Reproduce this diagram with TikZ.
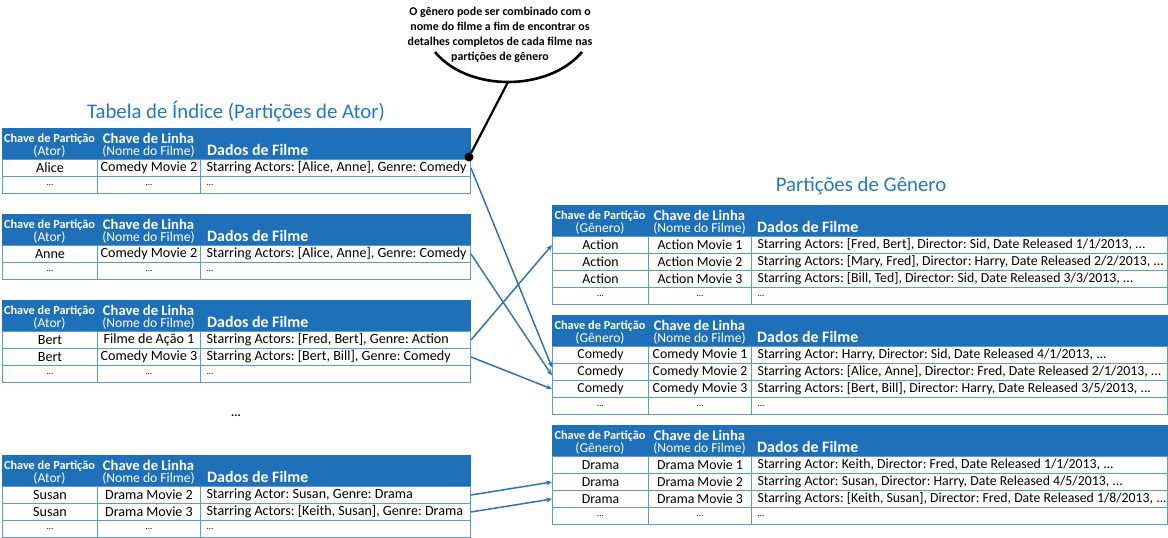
\documentclass[tikz,border=0pt]{standalone}
\usepackage{fontspec}
\setmainfont{Carlito}
\usetikzlibrary{arrows.meta,positioning,calc}
\definecolor{hdblue}{HTML}{1E70B8}
\definecolor{ttlblue}{HTML}{2179C6}
\definecolor{gridblue}{HTML}{5B9BD5}
\definecolor{arrblue}{HTML}{2E75B6}
\newcommand{\dotz}{{\fontsize{9}{9}\selectfont...}}
\frenchspacing

\begin{document}
\begin{tikzpicture}[x=1pt, y=-1pt,
  hd/.style={fill=hdblue, draw=hdblue, anchor=north west, inner sep=0pt, minimum height=31pt},
  pk/.style={text=white, inner sep=0pt, font=\bfseries\fontsize{12.3}{13}\selectfont},
  rk/.style={text=white, inner sep=0pt, font=\bfseries\fontsize{14.6}{15}\selectfont},
  sub/.style={text=white, inner sep=0pt, font=\fontsize{13.6}{14}\selectfont},
  dt/.style={text=white, inner sep=0pt, anchor=west, font=\bfseries\fontsize{15.9}{17}\selectfont},
  cell/.style={draw=gridblue, line width=1pt, fill=white, anchor=north west, inner sep=0pt, minimum height=17pt, font=\fontsize{14.1}{15}\selectfont},
  ca/.style={cell, minimum width=95pt},
  cb/.style={cell, minimum width=103pt},
  cc/.style={cell, minimum width=270pt},
  ga/.style={cell, minimum width=96pt, font=\fontsize{13.8}{15}\selectfont},
  gb/.style={cell, minimum width=103pt, font=\fontsize{13.8}{15}\selectfont},
  gc/.style={cell, minimum width=416pt, font=\fontsize{13.8}{15}\selectfont},
  ttl/.style={text=ttlblue, font=\fontsize{20.8}{22}\selectfont},
  arr/.style={-{Stealth[length=6pt, width=5pt]}, draw=arrblue, line width=1.5pt}]
\useasboundingbox (0,0) rectangle (1168,538);
% titles
\node[ttl] (lt) at (236,112) {Tabela de Índice (Partições de Ator)};
\node[ttl] (rt) at (861,186) {Partições de Gênero};
% actor tables
\foreach \t/\y in {alice/128, anne/214, bert/300, susan/455}{
  \node[hd, minimum width=468pt] (\t) at (2,\y) {};
  \node[pk] (\t-pk) at ($(\t.north west)+(47.5,11)$) {Chave de Partição};
  \node[sub] (\t-ps) at ($(\t.north west)+(47.5,23)$) {(Ator)};
  \node[rk] (\t-rk) at ($(\t.north west)+(146.5,10)$) {Chave de Linha};
  \node[sub] (\t-rs) at ($(\t.north west)+(146.5,23)$) {(Nome do Filme)};
  \node[dt] (\t-dt) at ($(\t.north west)+(205,22)$) {Dados de Filme};
}
\foreach \r/\y/\a/\b/\c in {
  alice1/159/Alice/Comedy Movie 2/{Starring Actors: [Alice, Anne], Genre: Comedy},
  alice2/176/\dotz/\dotz/\dotz,
  anne1/245/Anne/Comedy Movie 2/{Starring Actors: [Alice, Anne], Genre: Comedy},
  anne2/262/\dotz/\dotz/\dotz,
  bert1/331/Bert/Filme de Ação 1/{Starring Actors: [Fred, Bert], Genre: Action},
  bert2/348/Bert/Comedy Movie 3/{Starring Actors: [Bert, Bill], Genre: Comedy},
  bert3/365/\dotz/\dotz/\dotz,
  susan1/486/Susan/Drama Movie 2/{Starring Actor: Susan, Genre: Drama},
  susan2/503/Susan/Drama Movie 3/{Starring Actors: [Keith, Susan], Genre: Drama},
  susan3/520/\dotz/\dotz/\dotz}{
  \node[ca] (\r-a) at (2,\y) {\a};
  \node[cb] (\r-b) at (97,\y) {\b};
  \node[cc] (\r-c) at (200,\y) {\makebox[258pt][l]{\c}};
}
\node[font=\bfseries\fontsize{12}{12}\selectfont] (gap) at (236,416) {...};
% genre tables
\foreach \t/\y in {act/205, com/315, dra/425}{
  \node[hd, minimum width=615pt] (\t) at (552,\y) {};
  \node[pk] (\t-pk) at ($(\t.north west)+(48,11)$) {Chave de Partição};
  \node[sub] (\t-ps) at ($(\t.north west)+(48,23)$) {(Gênero)};
  \node[rk] (\t-rk) at ($(\t.north west)+(147.5,10)$) {Chave de Linha};
  \node[sub] (\t-rs) at ($(\t.north west)+(147.5,23)$) {(Nome do Filme)};
  \node[dt] (\t-dt) at ($(\t.north west)+(205,22)$) {Dados de Filme};
}
\foreach \r/\y/\a/\b/\c in {
  act1/236/Action/Action Movie 1/{Starring Actors: [Fred, Bert], Director: Sid, Date Released 1/1/2013, ...},
  act2/253/Action/Action Movie 2/{Starring Actors: [Mary, Fred], Director: Harry, Date Released 2/2/2013, ...},
  act3/270/Action/Action Movie 3/{Starring Actors: [Bill, Ted], Director: Sid, Date Released 3/3/2013, ...},
  act4/287/\dotz/\dotz/\dotz,
  com1/346/Comedy/Comedy Movie 1/{Starring Actor: Harry, Director: Sid, Date Released 4/1/2013, ...},
  com2/363/Comedy/Comedy Movie 2/{Starring Actors: [Alice, Anne], Director: Fred, Date Released 2/1/2013, ...},
  com3/380/Comedy/Comedy Movie 3/{Starring Actors: [Bert, Bill], Director: Harry, Date Released 3/5/2013, ...},
  com4/397/\dotz/\dotz/\dotz,
  dra1/456/Drama/Drama Movie 1/{Starring Actor: Keith, Director: Fred, Date Released 1/1/2013, ...},
  dra2/473/Drama/Drama Movie 2/{Starring Actor: Susan, Director: Harry, Date Released 4/5/2013, ...},
  dra3/490/Drama/Drama Movie 3/{Starring Actors: [Keith, Susan], Director: Fred, Date Released 1/8/2013, ...},
  dra4/507/\dotz/\dotz/\dotz}{
  \node[ga] (\r-a) at (552,\y) {\a};
  \node[gb] (\r-b) at (648,\y) {\b};
  \node[gc] (\r-c) at (751,\y) {\makebox[404pt][l]{\c}};
}
% links
\draw[arr] (alice1-c.east) -- ([yshift=4.5pt]com2-a.west);
\draw[arr] (anne1-c.east) -- ([yshift=-3.5pt]com2-a.west);
\draw[arr] (bert1-c.east) -- (act1-a.west);
\draw[arr] (bert2-c.east) -- (com3-a.west);
\draw[arr] (susan1-c.east) -- (dra2-a.west);
\draw[arr] (susan2-c.east) -- (dra3-a.west);
% callout
\node[align=center, inner sep=0pt, font=\bfseries\fontsize{11.9}{15}\selectfont] (note) at (500,35)
  {O gênero pode ser combinado com o\\nome do filme a fim de encontrar os\\detalhes completos de cada filme nas\\partições de gênero};
\draw[line width=2.6pt] (435,52) .. controls (468,92) and (548,92) .. (582,52);
\coordinate (tip) at (508,82);
\node[circle, fill=black, inner sep=0pt, minimum size=9pt] (dot) at (469,157) {};
\draw[line width=2.2pt] (tip) -- (dot);
\end{tikzpicture}
\end{document}
